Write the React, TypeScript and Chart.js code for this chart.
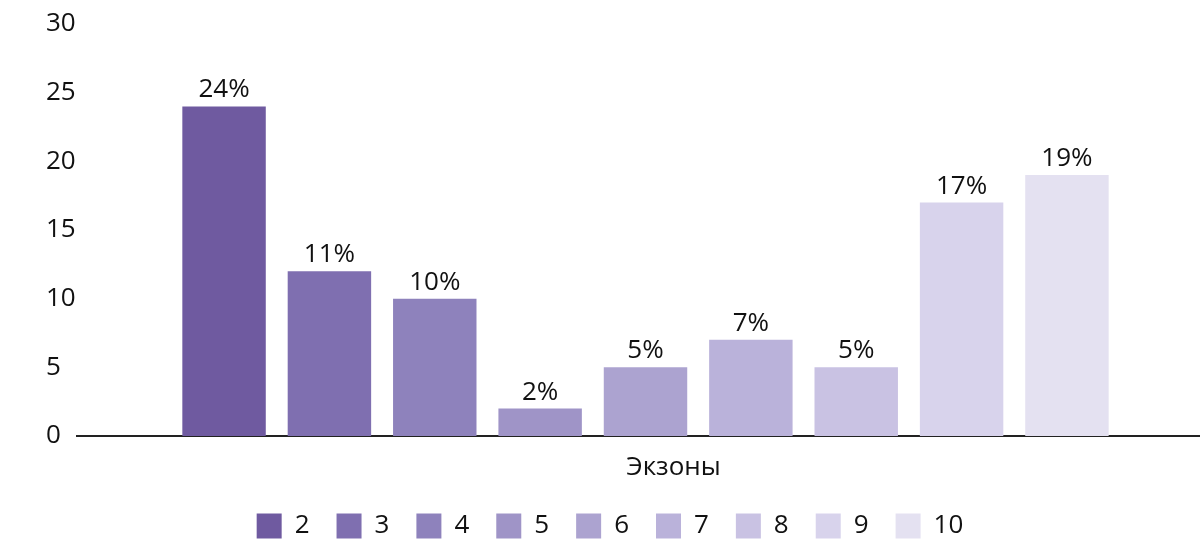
import React, { useEffect, useRef } from 'react';
import { Chart, ChartConfiguration, registerables } from 'chart.js';

Chart.register(...registerables);

const categories = ['Экзоны'];
const exons = ['2', '3', '4', '5', '6', '7', '8', '9', '10'];
const values = [24, 12, 10, 2, 5, 7, 5, 17, 19];
const valueLabels = ['24%', '11%', '10%', '2%', '5%', '7%', '5%', '17%', '19%'];
const colors = ['#6f5aa0', '#7f6fb0', '#8e82bc', '#9f94c7', '#aca3d0', '#bab2da', '#c9c2e3', '#d8d3ec', '#e4e1f1'];

const FONT = '"Open Sans", "Noto Sans", sans-serif';

// percent labels above each bar
const barLabels = {
  id: 'barLabels',
  afterDatasetsDraw(chart: Chart) {
    const ctx = chart.ctx;
    ctx.save();
    ctx.font = `26px ${FONT}`;
    ctx.fillStyle = '#111';
    ctx.textAlign = 'center';
    ctx.textBaseline = 'alphabetic';
    chart.data.datasets.forEach((_, i) => {
      const bar = chart.getDatasetMeta(i).data[0] as any;
      if (bar) ctx.fillText(valueLabels[i], bar.x, bar.y - 9);
    });
    ctx.restore();
  },
};

// nudge the legend a little to the left, as in the source
const legendShift = {
  id: 'legendShift',
  afterLayout(chart: any) {
    if (chart.legend) {
      chart.legend.left -= 20;
      chart.legend.right -= 20;
    }
  },
};

const App: React.FC = () => {
  const canvasRef = useRef<HTMLCanvasElement | null>(null);
  const chartRef = useRef<Chart | null>(null);

  useEffect(() => {
    document.body.style.margin = '0';
    if (!canvasRef.current) return;

    const config: ChartConfiguration = {
      type: 'bar',
      data: {
        labels: categories,
        datasets: exons.map((name, i) => ({
          label: name,
          data: [values[i]],
          backgroundColor: colors[i],
          borderWidth: 0,
          barPercentage: 0.792,
          categoryPercentage: 0.834,
        })),
      },
      options: {
        animation: false,
        responsive: false,
        layout: { padding: { left: 46, top: 24, right: 0, bottom: -2 } },
        plugins: {
          tooltip: { enabled: false },
          legend: {
            position: 'bottom',
            labels: {
              boxWidth: 25,
              boxHeight: 25,
              padding: 27,
              color: '#111',
              font: { family: FONT, size: 26 },
            },
          },
        },
        scales: {
          x: {
            grid: { display: false, drawTicks: false },
            border: { display: true, color: '#222', width: 2 },
            afterFit: (scale: any) => {
              scale.height = 50;
            },
            ticks: {
              color: '#111',
              padding: 16,
              labelOffset: 28,
              font: { family: FONT, size: 26 },
            },
          },
          y: {
            min: 0,
            max: 30,
            grid: { display: false, drawTicks: false },
            border: { display: false },
            afterFit: (scale: any) => {
              scale.width = 31;
            },
            ticks: {
              stepSize: 5,
              crossAlign: 'far',
              color: '#111',
              font: { family: FONT, size: 26 },
            },
          },
        },
      } as any,
      plugins: [barLabels, legendShift],
    };

    chartRef.current = new Chart(canvasRef.current, config);

    return () => {
      if (chartRef.current) {
        chartRef.current.destroy();
        chartRef.current = null;
      }
    };
  }, []);

  return (
    <div style={{ width: 1200, height: 547, overflow: 'hidden', background: '#fff' }}>
      <canvas ref={canvasRef} width={1214} height={547} style={{ width: 1214, height: 547 }} />
    </div>
  );
};

export default App;
